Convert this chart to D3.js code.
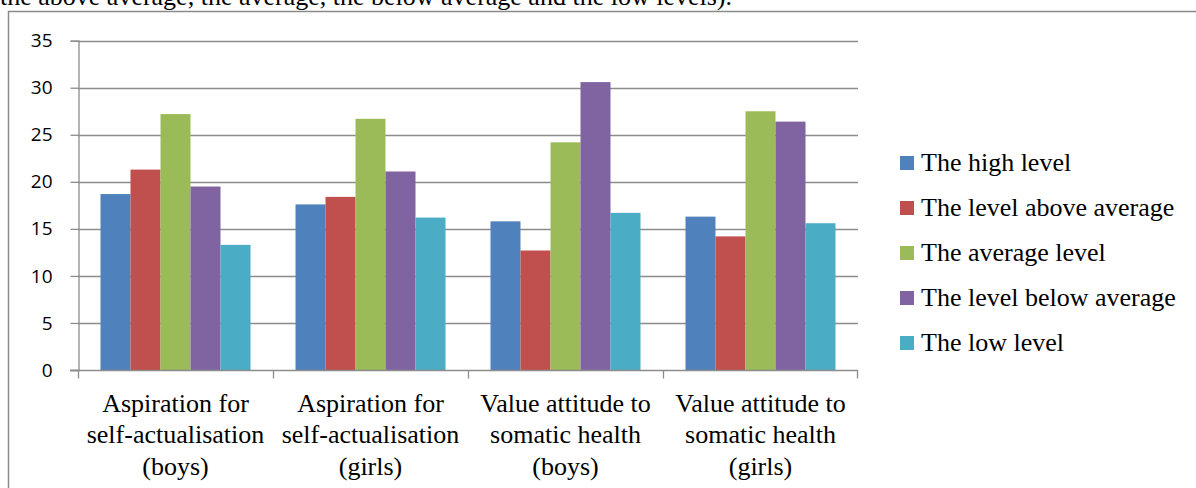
<!DOCTYPE html>
<html>
<head>
<meta charset="utf-8">
<script src="https://cdn.jsdelivr.net/npm/d3@7"></script>
<style>
  body { margin: 0; background: #fff; }
  svg { display: block; }
</style>
</head>
<body>
<div id="chart"></div>
<script>
const categories = [
  ["Aspiration for", "self-actualisation", "(boys)"],
  ["Aspiration for", "self-actualisation", "(girls)"],
  ["Value attitude to", "somatic health", "(boys)"],
  ["Value attitude to", "somatic health", "(girls)"]
];
const seriesNames = ["The high level", "The level above average", "The average level",
                     "The level below average", "The low level"];
const highLevel = [18.7, 17.6, 15.8, 16.3];
const aboveAverage = [21.3, 18.4, 12.7, 14.2];
const averageLevel = [27.2, 26.7, 24.2, 27.5];
const belowAverage = [19.5, 21.1, 30.6, 26.4];
const lowLevel = [13.3, 16.2, 16.7, 15.6];
const yTicks = [0, 5, 10, 15, 20, 25, 30, 35];
const colors = ["#4f81bd", "#c0504d", "#9bbb59", "#8064a2", "#4bacc6"];

const series = [highLevel, aboveAverage, averageLevel, belowAverage, lowLevel];
const width = 1196, height = 488;
const plot = {left: 78, right: 858, top: 40.7, bottom: 370};
const serif = "'Liberation Serif', 'Times New Roman', serif";

const svg = d3.select("#chart").append("svg")
    .attr("width", width)
    .attr("height", height);

// text from the page above the chart
svg.append("text")
    .attr("x", 0)
    .attr("y", 5)
    .style("font-family", serif)
    .style("font-size", "26px")
    .text("the above average, the average, the below average and the low levels).");

// chart frame
svg.append("rect")
    .attr("x", 8.5)
    .attr("y", 11.5)
    .attr("width", 1300)
    .attr("height", 600)
    .attr("fill", "none")
    .attr("stroke", "#8a8a8a")
    .attr("stroke-width", 1.5);

const x0 = d3.scaleBand()
    .domain(d3.range(categories.length))
    .range([plot.left, plot.right])
    .paddingInner(0)
    .paddingOuter(0);

const x1 = d3.scaleBand()
    .domain(d3.range(series.length))
    .range([0, x0.bandwidth()])
    .paddingOuter(0.75)
    .paddingInner(0);

const y = d3.scaleLinear()
    .domain([0, 35])
    .range([plot.bottom, plot.top]);

// gridlines
svg.append("g")
    .selectAll("line")
    .data(yTicks.filter(d => d > 0))
    .enter().append("line")
    .attr("x1", plot.left)
    .attr("x2", plot.right)
    .attr("y1", d => Math.round(y(d)) + 0.5)
    .attr("y2", d => Math.round(y(d)) + 0.5)
    .attr("stroke", "#8c8c8c")
    .attr("stroke-width", 1.3);

// bars
const groups = svg.append("g")
    .selectAll("g")
    .data(series)
    .enter().append("g")
    .attr("fill", (d, i) => colors[i]);

groups.each(function(values, si) {
  d3.select(this).selectAll("rect")
      .data(values)
      .enter().append("rect")
      .attr("x", (d, ci) => x0(ci) + x1(si))
      .attr("width", x1.bandwidth())
      .attr("y", d => y(d))
      .attr("height", d => y(0) - y(d));
});

// y axis
const yAxis = svg.append("g")
    .attr("transform", "translate(" + (plot.left + 0.5) + ",0)")
    .call(d3.axisLeft(y).tickValues(yTicks).tickSize(8).tickPadding(18));
yAxis.select(".domain").attr("stroke", "#8c8c8c").attr("stroke-width", 1.3);
yAxis.selectAll(".tick line").attr("stroke", "#8c8c8c").attr("stroke-width", 1.3);
yAxis.selectAll(".tick text")
    .style("font-family", "'Open Sans', 'Liberation Sans', sans-serif")
    .style("font-size", "19px")
    .attr("fill", "#000");

// x axis
const xAxis = svg.append("g")
    .attr("transform", "translate(0," + (plot.bottom + 0.5) + ")");
xAxis.append("line")
    .attr("x1", plot.left - 8)
    .attr("x2", plot.right)
    .attr("stroke", "#8c8c8c")
    .attr("stroke-width", 1.3);
xAxis.selectAll("line.tick")
    .data(d3.range(categories.length + 1))
    .enter().append("line")
    .attr("class", "tick")
    .attr("x1", i => i < categories.length ? x0(i) + 0.5 : plot.right - 0.5)
    .attr("x2", i => i < categories.length ? x0(i) + 0.5 : plot.right - 0.5)
    .attr("y1", 0)
    .attr("y2", 8)
    .attr("stroke", "#8c8c8c")
    .attr("stroke-width", 1.3);

const catLabels = xAxis.selectAll("text.cat")
    .data(categories)
    .enter().append("text")
    .attr("class", "cat")
    .attr("text-anchor", "middle")
    .style("font-family", serif)
    .style("font-size", "26px");

catLabels.selectAll("tspan")
    .data((d, i) => d.map(line => ({line: line, cx: x0(i) + x0.bandwidth() / 2})))
    .enter().append("tspan")
    .attr("x", d => d.cx)
    .attr("y", (d, j) => 41 + j * 31.5)
    .text(d => d.line);

// legend
const legend = svg.append("g")
    .selectAll("g")
    .data(seriesNames)
    .enter().append("g")
    .attr("transform", (d, i) => "translate(900," + (163 + i * 45) + ")");

legend.append("rect")
    .attr("x", 0)
    .attr("y", -7)
    .attr("width", 14)
    .attr("height", 14)
    .attr("fill", (d, i) => colors[i]);

legend.append("text")
    .attr("x", 21)
    .attr("y", 8)
    .style("font-family", serif)
    .style("font-size", "26px")
    .text(d => d);
</script>
</body>
</html>
